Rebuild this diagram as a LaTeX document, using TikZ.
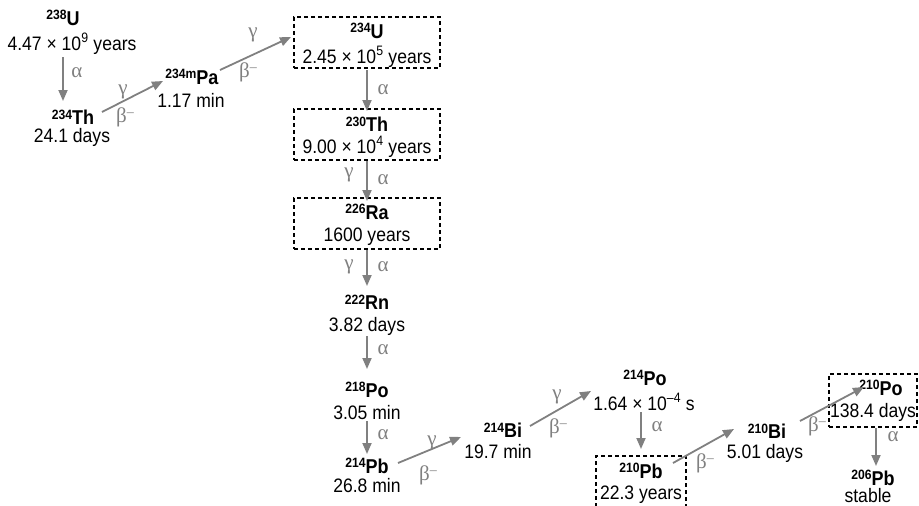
\documentclass[tikz,border=0pt]{standalone}
\usepackage{fontspec}
\setmainfont[FakeStretch=0.9]{Liberation Sans}
\newfontfamily\grk{Liberation Serif}
\usetikzlibrary{arrows.meta}
\definecolor{arr}{RGB}{128,128,128}
\newcommand\nuc[2]{\textbf{\raisebox{0.5ex}{\fontsize{13.5}{13.5}\selectfont #1}#2}}
\newcommand\tms{\texttimes}
\newcommand\bminus{β\raisebox{0.55ex}{\fontsize{14}{14}\selectfont –}}
\tikzset{
  txt/.style={inner sep=0pt, font=\fontsize{19.5}{22}\selectfont},
  sym/.style={inner sep=0pt, font=\fontsize{20}{22}\selectfont},
  glab/.style={inner sep=0pt, text=arr, font=\grk\fontsize{21}{22}\selectfont},
  decay/.style={draw=arr, line width=1.8pt, -{Triangle[length=11pt,width=9pt]}},
  dbox/.style={draw=black, line width=1.4pt, dash pattern=on 4pt off 3pt},
}
\begin{document}
\begin{tikzpicture}[x=1pt,y=-1pt]
\useasboundingbox (0,0) rectangle (919,506);
% dashed boxes
\node[dbox, minimum width=146pt, minimum height=51pt, inner sep=0pt] (b234u) at (367,42.5) {};
\node[dbox, minimum width=146pt, minimum height=51pt, inner sep=0pt] (b230th) at (367,134.5) {};
\node[dbox, minimum width=146pt, minimum height=51pt, inner sep=0pt] (b226ra) at (367,223.5) {};
\node[dbox, minimum width=90pt, minimum height=60pt, inner sep=0pt] (b210pb) at (641,486) {};
\node[dbox, minimum width=88pt, minimum height=53pt, inner sep=0pt] (b210po) at (873,400.5) {};
% nuclides
\node[sym] (u238) at (63,18) {\nuc{238}{U}};
\node[txt] (u238t) at (72,44) {4.47 \tms\ 10\textsuperscript{9} years};
\node[sym] (th234) at (73,117) {\nuc{234}{Th}};
\node[txt] (th234t) at (72,137) {24.1 days};
\node[sym] (pa234) at (192,77) {\nuc{234m}{Pa}};
\node[txt] (pa234t) at (191,100) {1.17 min};
\node[sym] (u234) at (367,31) {\nuc{234}{U}};
\node[txt] (u234t) at (367,57) {2.45 \tms\ 10\textsuperscript{5} years};
\node[sym] (th230) at (367,124) {\nuc{230}{Th}};
\node[txt] (th230t) at (367,147) {9.00 \tms\ 10\textsuperscript{4} years};
\node[sym] (ra226) at (367,212) {\nuc{226}{Ra}};
\node[txt] (ra226t) at (367,237) {1600 years};
\node[sym] (rn222) at (367,302) {\nuc{222}{Rn}};
\node[txt] (rn222t) at (367,326) {3.82 days};
\node[sym] (po218) at (367,390) {\nuc{218}{Po}};
\node[txt] (po218t) at (367,413) {3.05 min};
\node[sym] (pb214) at (367,466) {\nuc{214}{Pb}};
\node[txt] (pb214t) at (367,486) {26.8 min};
\node[sym] (bi214) at (503,430) {\nuc{214}{Bi}};
\node[txt] (bi214t) at (498,452) {19.7 min};
\node[sym] (po214) at (645,378) {\nuc{214}{Po}};
\node[txt] (po214t) at (644,402) {1.64 \tms\ 10\textsuperscript{–4} s};
\node[sym] (pb210) at (641,471) {\nuc{210}{Pb}};
\node[txt] (pb210t) at (641,495) {22.3 years};
\node[sym] (bi210) at (767,431) {\nuc{210}{Bi}};
\node[txt] (bi210t) at (765,453) {5.01 days};
\node[sym] (po210) at (881,388) {\nuc{210}{Po}};
\node[txt] (po210t) at (873,412) {138.4 days};
\node[sym] (pb206) at (873,478) {\nuc{206}{Pb}};
\node[txt] (pb206t) at (868,496) {stable};
% arrow end points
\coordinate (a1s) at (63,57);   \coordinate (a1e) at (63,101);
\coordinate (a2s) at (102,112); \coordinate (a2e) at (163,81);
\coordinate (a3s) at (220,70);  \coordinate (a3e) at (291,37);
\coordinate (a4s) at (367,70);  \coordinate (a4e) at (367,111);
\coordinate (a5s) at (367,161); \coordinate (a5e) at (367,201);
\coordinate (a6s) at (367,250); \coordinate (a6e) at (367,286);
\coordinate (a7s) at (367,336); \coordinate (a7e) at (367,369);
\coordinate (a8s) at (367,421); \coordinate (a8e) at (367,454);
\coordinate (a9s) at (398,463); \coordinate (a9e) at (461,437);
\coordinate (a10s) at (530,426); \coordinate (a10e) at (591,391);
\coordinate (a11s) at (641,412); \coordinate (a11e) at (641,449);
\coordinate (a12s) at (673,463); \coordinate (a12e) at (734,429);
\coordinate (a13s) at (800,421); \coordinate (a13e) at (864,387);
\coordinate (a14s) at (876,428); \coordinate (a14e) at (876,466);
\foreach \i in {1,...,14} \draw[decay] (a\i s) -- (a\i e);
% labels
\node[glab] (l1) at (77,73) {α};
\node[glab] (l2g) at (123,92) {γ};
\node[glab] (l2b) at (125,117) {\bminus};
\node[glab] (l3g) at (253,35) {γ};
\node[glab] (l3b) at (248,72) {\bminus};
\node[glab] (l4) at (383,90) {α};
\node[glab] (l5g) at (349,175) {γ};
\node[glab] (l5a) at (383,180) {α};
\node[glab] (l6g) at (349,267) {γ};
\node[glab] (l6a) at (383,267) {α};
\node[glab] (l7) at (383,350) {α};
\node[glab] (l8) at (383,435) {α};
\node[glab] (l9g) at (432,443) {γ};
\node[glab] (l9b) at (428,475) {\bminus};
\node[glab] (l10g) at (557,397) {γ};
\node[glab] (l10b) at (558,428) {\bminus};
\node[glab] (l11) at (657,427) {α};
\node[glab] (l12) at (705,463) {\bminus};
\node[glab] (l13) at (817,426) {\bminus};
\node[glab] (l14) at (893,437) {α};
\end{tikzpicture}
\end{document}
